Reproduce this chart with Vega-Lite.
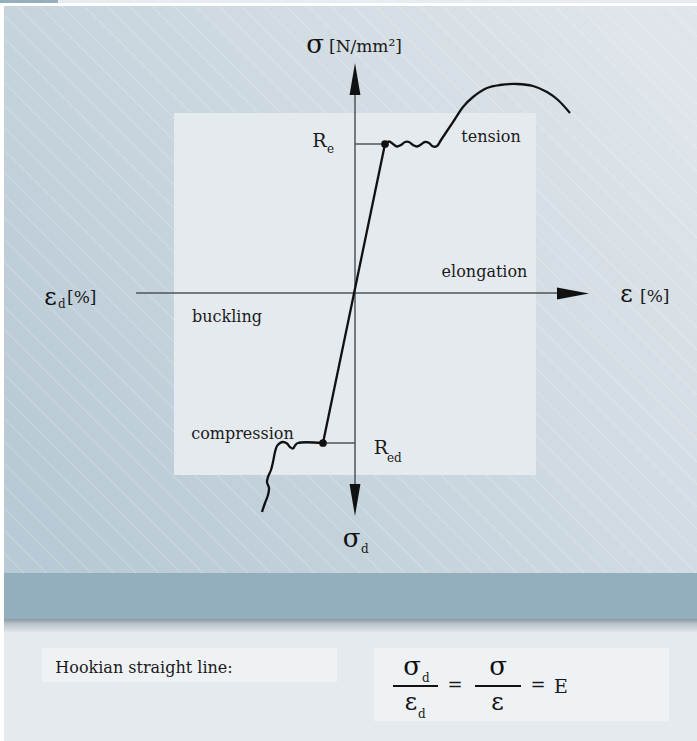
{
  "$schema": "https://vega.github.io/schema/vega-lite/v6.json",
  "width": 697,
  "height": 741,
  "autosize": {"type": "fit", "contains": "padding"},
  "padding": 0,
  "background": "#ffffff",
  "config": {"view": {"stroke": null}},
  "datasets": {
    "panel": [{"x": 4, "x2": 697, "y": 6, "y2": 573}],
    "hatch": [
      {"x": -565.4, "x2": 1.6, "y": 6, "y2": 573}, {"x": -543.0, "x2": 24.0, "y": 6, "y2": 573}, {"x": -520.6, "x2": 46.4, "y": 6, "y2": 573},
      {"x": -498.2, "x2": 68.8, "y": 6, "y2": 573}, {"x": -475.8, "x2": 91.2, "y": 6, "y2": 573}, {"x": -453.4, "x2": 113.6, "y": 6, "y2": 573},
      {"x": -431.0, "x2": 136.0, "y": 6, "y2": 573}, {"x": -408.6, "x2": 158.4, "y": 6, "y2": 573}, {"x": -386.2, "x2": 180.8, "y": 6, "y2": 573},
      {"x": -363.8, "x2": 203.2, "y": 6, "y2": 573}, {"x": -341.4, "x2": 225.6, "y": 6, "y2": 573}, {"x": -319.0, "x2": 248.0, "y": 6, "y2": 573},
      {"x": -296.6, "x2": 270.4, "y": 6, "y2": 573}, {"x": -274.2, "x2": 292.8, "y": 6, "y2": 573}, {"x": -251.8, "x2": 315.2, "y": 6, "y2": 573},
      {"x": -229.4, "x2": 337.6, "y": 6, "y2": 573}, {"x": -207.0, "x2": 360.0, "y": 6, "y2": 573}, {"x": -184.6, "x2": 382.4, "y": 6, "y2": 573},
      {"x": -162.2, "x2": 404.8, "y": 6, "y2": 573}, {"x": -139.8, "x2": 427.2, "y": 6, "y2": 573}, {"x": -117.4, "x2": 449.6, "y": 6, "y2": 573},
      {"x": -95.0, "x2": 472.0, "y": 6, "y2": 573}, {"x": -72.6, "x2": 494.4, "y": 6, "y2": 573}, {"x": -50.2, "x2": 516.8, "y": 6, "y2": 573},
      {"x": -27.8, "x2": 539.2, "y": 6, "y2": 573}, {"x": -5.4, "x2": 561.6, "y": 6, "y2": 573}, {"x": 17.0, "x2": 584.0, "y": 6, "y2": 573},
      {"x": 39.4, "x2": 606.4, "y": 6, "y2": 573}, {"x": 61.8, "x2": 628.8, "y": 6, "y2": 573}, {"x": 84.2, "x2": 651.2, "y": 6, "y2": 573},
      {"x": 106.6, "x2": 673.6, "y": 6, "y2": 573}, {"x": 129.0, "x2": 696.0, "y": 6, "y2": 573}, {"x": 151.4, "x2": 718.4, "y": 6, "y2": 573},
      {"x": 173.8, "x2": 740.8, "y": 6, "y2": 573}, {"x": 196.2, "x2": 763.2, "y": 6, "y2": 573}, {"x": 218.6, "x2": 785.6, "y": 6, "y2": 573},
      {"x": 241.0, "x2": 808.0, "y": 6, "y2": 573}, {"x": 263.4, "x2": 830.4, "y": 6, "y2": 573}, {"x": 285.8, "x2": 852.8, "y": 6, "y2": 573},
      {"x": 308.2, "x2": 875.2, "y": 6, "y2": 573}, {"x": 330.6, "x2": 897.6, "y": 6, "y2": 573}, {"x": 353.0, "x2": 920.0, "y": 6, "y2": 573},
      {"x": 375.4, "x2": 942.4, "y": 6, "y2": 573}, {"x": 397.8, "x2": 964.8, "y": 6, "y2": 573}, {"x": 420.2, "x2": 987.2, "y": 6, "y2": 573},
      {"x": 442.6, "x2": 1009.6, "y": 6, "y2": 573}, {"x": 465.0, "x2": 1032.0, "y": 6, "y2": 573}, {"x": 487.4, "x2": 1054.4, "y": 6, "y2": 573},
      {"x": 509.8, "x2": 1076.8, "y": 6, "y2": 573}, {"x": 532.2, "x2": 1099.2, "y": 6, "y2": 573}, {"x": 554.6, "x2": 1121.6, "y": 6, "y2": 573},
      {"x": 577.0, "x2": 1144.0, "y": 6, "y2": 573}, {"x": 599.4, "x2": 1166.4, "y": 6, "y2": 573}, {"x": 621.8, "x2": 1188.8, "y": 6, "y2": 573},
      {"x": 644.2, "x2": 1211.2, "y": 6, "y2": 573}, {"x": 666.6, "x2": 1233.6, "y": 6, "y2": 573}, {"x": 689.0, "x2": 1256.0, "y": 6, "y2": 573}
    ],
    "rects": [
      {"part": "strip", "x": 0, "x2": 697, "y": 0, "y2": 3},
      {"part": "tab", "x": 0, "x2": 58, "y": 0, "y2": 3},
      {"part": "inner", "x": 174, "x2": 536, "y": 113, "y2": 475},
      {"part": "band", "x": 4, "x2": 697, "y": 573, "y2": 619},
      {"part": "bottom", "x": 4, "x2": 697, "y": 619, "y2": 741},
      {"part": "hookbox", "x": 42, "x2": 337, "y": 648, "y2": 682},
      {"part": "formulabox", "x": 374, "x2": 669, "y": 648, "y2": 721}
    ],
    "shadow": [{"x": 4, "x2": 697, "y": 619, "y2": 633}],
    "rules": [
      {"x": 355, "x2": 355, "y": 95, "y2": 485},
      {"x": 136, "x2": 557, "y": 293, "y2": 293},
      {"x": 355, "x2": 385, "y": 144, "y2": 144},
      {"x": 323, "x2": 355, "y": 443, "y2": 443}
    ],
    "bars": [
      {"x": 393, "x2": 438, "y": 686, "y2": 686},
      {"x": 475, "x2": 521, "y": 686, "y2": 686}
    ],
    "hooke": [{"i": 0, "x": 323, "y": 443}, {"i": 1, "x": 385, "y": 144}],
    "curves": [
      {"id": "tension", "i": 0, "x": 385, "y": 144}, {"id": "tension", "i": 1, "x": 389, "y": 141.5},
      {"id": "tension", "i": 2, "x": 393, "y": 144}, {"id": "tension", "i": 3, "x": 397, "y": 146.5},
      {"id": "tension", "i": 4, "x": 401, "y": 145}, {"id": "tension", "i": 5, "x": 405, "y": 142},
      {"id": "tension", "i": 6, "x": 409, "y": 142}, {"id": "tension", "i": 7, "x": 413, "y": 145},
      {"id": "tension", "i": 8, "x": 417, "y": 146.5}, {"id": "tension", "i": 9, "x": 421, "y": 144.5},
      {"id": "tension", "i": 10, "x": 425, "y": 142}, {"id": "tension", "i": 11, "x": 429, "y": 143},
      {"id": "tension", "i": 12, "x": 433, "y": 146.5}, {"id": "tension", "i": 13, "x": 437, "y": 146},
      {"id": "tension", "i": 14, "x": 441, "y": 140}, {"id": "tension", "i": 15, "x": 447, "y": 131},
      {"id": "tension", "i": 16, "x": 455, "y": 119}, {"id": "tension", "i": 17, "x": 463, "y": 107},
      {"id": "tension", "i": 18, "x": 473, "y": 97}, {"id": "tension", "i": 19, "x": 487, "y": 88},
      {"id": "tension", "i": 20, "x": 500, "y": 85}, {"id": "tension", "i": 21, "x": 517, "y": 84},
      {"id": "tension", "i": 22, "x": 533, "y": 86}, {"id": "tension", "i": 23, "x": 547, "y": 92},
      {"id": "tension", "i": 24, "x": 558, "y": 100}, {"id": "tension", "i": 25, "x": 570, "y": 113},
      {"id": "compression", "i": 0, "x": 323, "y": 443}, {"id": "compression", "i": 1, "x": 298, "y": 443},
      {"id": "compression", "i": 2, "x": 295, "y": 445.5}, {"id": "compression", "i": 3, "x": 293, "y": 448.5},
      {"id": "compression", "i": 4, "x": 290, "y": 447}, {"id": "compression", "i": 5, "x": 287, "y": 443.5},
      {"id": "compression", "i": 6, "x": 283, "y": 442}, {"id": "compression", "i": 7, "x": 280, "y": 443},
      {"id": "compression", "i": 8, "x": 277, "y": 446}, {"id": "compression", "i": 9, "x": 275, "y": 452},
      {"id": "compression", "i": 10, "x": 273, "y": 462}, {"id": "compression", "i": 11, "x": 271, "y": 470},
      {"id": "compression", "i": 12, "x": 268, "y": 477}, {"id": "compression", "i": 13, "x": 267, "y": 482},
      {"id": "compression", "i": 14, "x": 269, "y": 488}, {"id": "compression", "i": 15, "x": 268, "y": 495},
      {"id": "compression", "i": 16, "x": 265, "y": 503}, {"id": "compression", "i": 17, "x": 262, "y": 512}
    ],
    "dots": [{"x": 385, "y": 144}, {"x": 323, "y": 443}],
    "arrows": [
      {"dir": "up", "x": 355, "y": 79},
      {"dir": "down", "x": 355, "y": 500},
      {"dir": "right", "x": 573, "y": 293.5}
    ],
    "words": [
      {"label": "tension", "x": 491, "y": 142},
      {"label": "elongation", "x": 484.5, "y": 277},
      {"label": "buckling", "x": 227, "y": 322},
      {"label": "compression", "x": 242.5, "y": 439},
      {"label": "Hookian straight line:", "x": 144, "y": 673}
    ],
    "sigmas": [
      {"label": "σ", "x": 315, "y": 53},
      {"label": "σ", "x": 351.5, "y": 547},
      {"label": "σ", "x": 412, "y": 675},
      {"label": "σ", "x": 498, "y": 675}
    ],
    "epsilons": [
      {"label": "ε", "x": 50.5, "y": 305},
      {"label": "ε", "x": 626.5, "y": 302},
      {"label": "ε", "x": 411, "y": 710},
      {"label": "ε", "x": 497.5, "y": 710}
    ],
    "capitals": [
      {"label": "R", "x": 319.5, "y": 147},
      {"label": "R", "x": 381, "y": 454},
      {"label": "E", "x": 561, "y": 693}
    ],
    "subs": [
      {"label": "e", "x": 327, "y": 153},
      {"label": "ed", "x": 387, "y": 462},
      {"label": "d", "x": 361, "y": 553},
      {"label": "d", "x": 58, "y": 308},
      {"label": "d", "x": 422, "y": 682},
      {"label": "d", "x": 418, "y": 718}
    ],
    "brackets": [
      {"label": "[N/mm²]", "x": 329, "y": 52},
      {"label": "[%]", "x": 67, "y": 303},
      {"label": "[%]", "x": 640, "y": 302}
    ],
    "equals": [
      {"label": "=", "x": 455, "y": 691},
      {"label": "=", "x": 538, "y": 691}
    ]
  },
  "encoding": {
    "x": {"field": "x", "type": "quantitative", "scale": {"domain": [0, 697], "nice": false, "zero": false}, "axis": null},
    "y": {"field": "y", "type": "quantitative", "scale": {"domain": [0, 741], "nice": false, "zero": false, "reverse": true}, "axis": null}
  },
  "layer": [
    {
      "data": {"name": "panel"},
      "mark": {"type": "rect", "color": {"gradient": "linear", "x1": 0, "y1": 0.8, "x2": 1, "y2": 0.2, "stops": [{"offset": 0, "color": "#b8cad5"}, {"offset": 1, "color": "#dfe5ea"}]}},
      "encoding": {"x2": {"field": "x2"}, "y2": {"field": "y2"}}
    },
    {
      "data": {"name": "hatch"},
      "mark": {"type": "rule", "color": "#ffffff", "opacity": 0.4, "strokeWidth": 0.8, "clip": true},
      "encoding": {"x2": {"field": "x2"}, "y2": {"field": "y2"}}
    },
    {
      "data": {"name": "rects"},
      "mark": {"type": "rect"},
      "encoding": {
        "x2": {"field": "x2"}, "y2": {"field": "y2"},
        "color": {"field": "part", "type": "nominal", "legend": null,
          "scale": {"domain": ["strip", "tab", "inner", "band", "bottom", "hookbox", "formulabox"],
                    "range": ["#e6ecf0", "#94afbd", "#e5eaef", "#93aebc", "#e5eaee", "#eef2f5", "#eef2f5"]}}
      }
    },
    {
      "data": {"name": "shadow"},
      "mark": {"type": "rect", "color": {"gradient": "linear", "x1": 0, "y1": 0, "x2": 0, "y2": 1, "stops": [{"offset": 0, "color": "#8a98a2"}, {"offset": 0.35, "color": "#b9c3ca"}, {"offset": 1, "color": "#e5eaee"}]}},
      "encoding": {"x2": {"field": "x2"}, "y2": {"field": "y2"}}
    },
    {
      "data": {"name": "rules"},
      "mark": {"type": "rule", "color": "#4f5458", "strokeWidth": 1.5},
      "encoding": {"x2": {"field": "x2"}, "y2": {"field": "y2"}}
    },
    {
      "data": {"name": "bars"},
      "mark": {"type": "rule", "color": "#111111", "strokeWidth": 2.2},
      "encoding": {"x2": {"field": "x2"}, "y2": {"field": "y2"}}
    },
    {
      "data": {"name": "arrows"},
      "mark": {"type": "point", "filled": true, "opacity": 1, "color": "#111111", "size": 1024, "strokeWidth": 0},
      "encoding": {
        "shape": {"field": "dir", "type": "nominal", "legend": null,
          "scale": {"domain": ["up", "down", "right"], "range": ["M0,-1L0.34,1L-0.34,1Z", "M0,1L0.34,-1L-0.34,-1Z", "M1,0L-1,0.38L-1,-0.38Z"]}}
      }
    },
    {
      "data": {"name": "hooke"},
      "mark": {"type": "line", "color": "#111111", "strokeWidth": 2.3},
      "encoding": {"order": {"field": "i", "type": "quantitative"}}
    },
    {
      "data": {"name": "curves"},
      "mark": {"type": "line", "color": "#111111", "strokeWidth": 2.3, "interpolate": "catmull-rom"},
      "encoding": {"detail": {"field": "id", "type": "nominal"}, "order": {"field": "i", "type": "quantitative"}}
    },
    {
      "data": {"name": "dots"},
      "mark": {"type": "circle", "color": "#111111", "opacity": 1, "size": 60}
    },
    {
      "data": {"name": "words"},
      "mark": {"type": "text", "font": "DejaVu Serif", "fontSize": 16, "color": "#1a1a1a", "align": "center", "baseline": "alphabetic"},
      "encoding": {"text": {"field": "label"}}
    },
    {
      "data": {"name": "sigmas"},
      "mark": {"type": "text", "font": "DejaVu Serif", "fontSize": 26, "color": "#111111", "align": "center", "baseline": "alphabetic"},
      "encoding": {"text": {"field": "label"}}
    },
    {
      "data": {"name": "epsilons"},
      "mark": {"type": "text", "font": "DejaVu Serif", "fontSize": 24, "color": "#111111", "align": "center", "baseline": "alphabetic"},
      "encoding": {"text": {"field": "label"}}
    },
    {
      "data": {"name": "capitals"},
      "mark": {"type": "text", "font": "DejaVu Serif", "fontSize": 19, "color": "#1a1a1a", "align": "center", "baseline": "alphabetic"},
      "encoding": {"text": {"field": "label"}}
    },
    {
      "data": {"name": "subs"},
      "mark": {"type": "text", "font": "DejaVu Serif", "fontSize": 12, "color": "#1a1a1a", "align": "left", "baseline": "alphabetic"},
      "encoding": {"text": {"field": "label"}}
    },
    {
      "data": {"name": "brackets"},
      "mark": {"type": "text", "font": "DejaVu Serif", "fontSize": 17, "color": "#1a1a1a", "align": "left", "baseline": "alphabetic"},
      "encoding": {"text": {"field": "label"}}
    },
    {
      "data": {"name": "equals"},
      "mark": {"type": "text", "font": "DejaVu Serif", "fontSize": 18, "color": "#1a1a1a", "align": "center", "baseline": "alphabetic"},
      "encoding": {"text": {"field": "label"}}
    }
  ]
}
